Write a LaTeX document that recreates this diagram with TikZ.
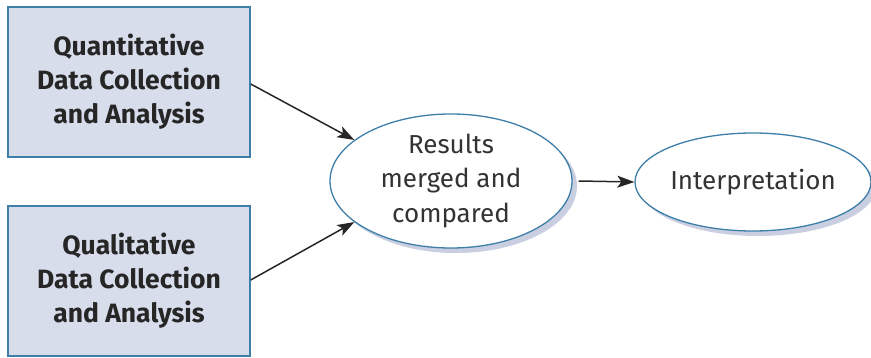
\documentclass[tikz,border=0pt]{standalone}
\usepackage{fontspec}
\setmainfont{Fira Sans}
\usetikzlibrary{shapes.geometric,shadows,arrows.meta}
\definecolor{edgeblue}{HTML}{3D7FA8}
\definecolor{boxfill}{HTML}{D7DDEA}
\definecolor{shade}{HTML}{C9CFE1}
\tikzset{
  databox/.style={draw=edgeblue, line width=1.4pt, fill=boxfill, rectangle,
    minimum width=242pt, minimum height=150pt, inner sep=0pt, align=center,
    font=\bfseries\fontsize{26.5}{34}\selectfont, text=black!85},
  resultnode/.style={draw=edgeblue, line width=1.3pt, fill=white, ellipse,
    inner sep=0pt, align=center, font=\fontsize{26}{34.5}\selectfont, text=black!80,
    drop shadow={shadow xshift=5pt, shadow yshift=-5pt, fill=shade, opacity=1}},
  flow/.style={line width=1.5pt, draw=black!85,
    -{Stealth[length=17pt,width=12pt,inset=4pt]}}
}
\begin{document}
\begin{tikzpicture}[x=1pt,y=-1pt]
  \useasboundingbox (0,0) rectangle (871,358);
  \node[databox] (quant) at (129,82) {Quantitative\\Data Collection\\and Analysis};
  \node[databox] (qual) at (129,281) {Qualitative\\Data Collection\\and Analysis};
  \node[resultnode, minimum width=242pt, minimum height=134pt] (merge) at (451,181)
    {Results\\merged and\\compared};
  \node[resultnode, minimum width=236pt, minimum height=98pt] (interp) at (753,182)
    {Interpretation};
  \coordinate (qa) at (quant.east |- 0,84);
  \coordinate (qb) at (qual.east |- 0,280);
  \coordinate (mout) at ([xshift=6pt]merge.east);
  \draw[flow] (qa) -- (merge.157);
  \draw[flow] (qb) -- (merge.-157);
  \draw[flow] (mout) -- (interp.west);
\end{tikzpicture}
\end{document}
